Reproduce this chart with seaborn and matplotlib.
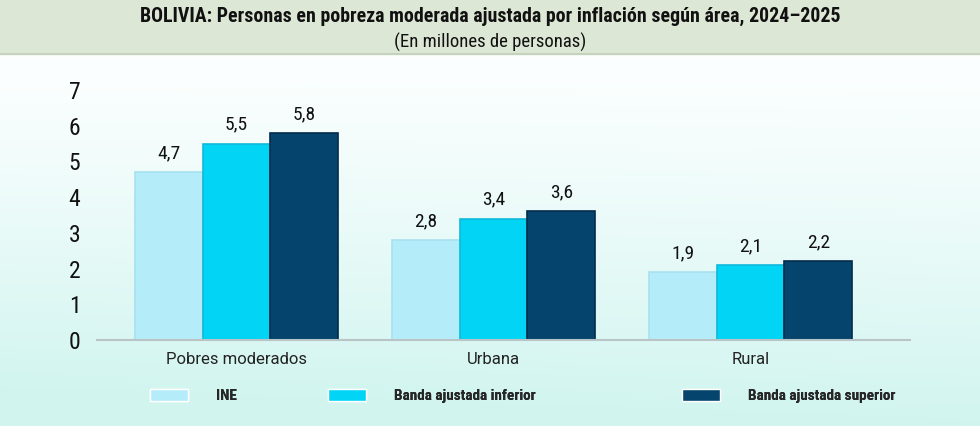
import numpy as np
import pandas as pd
import seaborn as sns
import matplotlib.pyplot as plt
from matplotlib import font_manager
from matplotlib.patches import Rectangle

# datos del grafico
categorias = ["Pobres moderados", "Urbana", "Rural"]
series = ["INE", "Banda ajustada inferior", "Banda ajustada superior"]
ine = [4.7, 2.8, 1.9]
banda_inferior = [5.5, 3.4, 2.1]
banda_superior = [5.8, 3.6, 2.2]
y_ticks = [0, 1, 2, 3, 4, 5, 6, 7]

titulo = "BOLIVIA: Personas en pobreza moderada ajustada por inflación según área, 2024–2025"
subtitulo = "(En millones de personas)"

colores = ["#b5ecf9", "#02d4f6", "#05446c"]
bordes = ["#a6e2f0", "#11b9da", "#032c4b"]

df = pd.DataFrame({
    "area": categorias * 3,
    "serie": [series[0]] * 3 + [series[1]] * 3 + [series[2]] * 3,
    "valor": ine + banda_inferior + banda_superior,
})

# fuente estrecha, si hay alguna
disponibles = {f.name for f in font_manager.fontManager.ttflist}
estrecha = "DejaVu Sans"
for cand in ["Roboto Condensed", "PT Sans Narrow", "Archivo Narrow", "Fira Sans Condensed",
             "Barlow Semi Condensed", "Encode Sans Condensed", "Liberation Sans Narrow"]:
    if cand in disponibles:
        estrecha = cand
        break
narrow = [estrecha, "DejaVu Sans"]

sns.set_style("white")
plt.rcParams["font.family"] = narrow

fig = plt.figure(figsize=(9.8, 4.26), dpi=100)

# fondo degradado
bg = fig.add_axes([0, 0, 1, 1], zorder=-10)
h, w = 426, 980
yy = np.linspace(0, 1, h)[:, None]
xx = np.linspace(0, 1, w)[None, :]
top = np.array([0.99, 1.0, 1.0])
bottom = np.array([0.82, 0.96, 0.94])
t = np.clip((yy - 0.12) / 0.88, 0, 1) ** 1.2
t = np.clip(t + 0.12 * (1 - xx) * t, 0, 1)
img = top[None, None, :] * (1 - t[..., None]) + bottom[None, None, :] * t[..., None]
bg.imshow(img, extent=[0, w, h, 0], aspect="auto")
bg.add_patch(Rectangle((0, 0), w, 54, color="#dde7d5"))
bg.plot([0, w], [54, 54], color="#c6d2bd", lw=1.5)
bg.set_xlim(0, w)
bg.set_ylim(h, 0)
bg.axis("off")

ax = fig.add_axes([97 / 980, 1 - 340 / 426, (910 - 97) / 980, (340 - 90) / 426])
ax.patch.set_alpha(0)
sns.barplot(data=df, x="area", y="valor", hue="serie", palette=colores,
            width=0.79, gap=0, saturation=1, ax=ax, legend=True)

for cont, borde in zip(ax.containers, bordes):
    for barra in cont:
        barra.set_edgecolor(borde)
        barra.set_linewidth(1.2)
    etiquetas = [f"{b.get_height():.1f}".replace(".", ",") for b in cont]
    ax.bar_label(cont, labels=etiquetas, padding=7, fontsize=14, color="#111111")

ax.set_xlim(-0.543, 2.62)
ax.set_ylim(0, 7)
ax.set_yticks(y_ticks)
ax.set_yticklabels([str(v) for v in y_ticks], fontsize=17, color="#111111")
ax.set_xlabel("")
ax.set_ylabel("")
ax.tick_params(axis="y", length=0, pad=12)
ax.tick_params(axis="x", length=0, pad=9)
for lab in ax.get_xticklabels():
    lab.set_family(["Roboto", "DejaVu Sans"])
    lab.set_fontsize(12)
    lab.set_color("#222222")
for lado in ["top", "right", "left"]:
    ax.spines[lado].set_visible(False)
ax.spines["bottom"].set_color("#b9c4c6")
ax.spines["bottom"].set_linewidth(1.5)

handles, labels = ax.get_legend_handles_labels()
ax.get_legend().remove()
pos_x = [150 / 980, 328 / 980, 682 / 980]
for hdl, lab, px in zip(handles, labels, pos_x):
    leg = fig.legend([hdl], [lab], loc="center left", bbox_to_anchor=(px, 0.07),
                     frameon=False, borderpad=0, borderaxespad=0,
                     handlelength=2.5, handleheight=0.8, handletextpad=1.8,
                     prop={"family": narrow, "weight": "bold", "size": 11})
    fig.add_artist(leg)

fig.text(0.5, 1 - 16 / 426, titulo, ha="center", va="center",
         fontsize=14.3, fontweight="bold", color="#111111")
fig.text(0.5, 1 - 42 / 426, subtitulo, ha="center", va="center",
         fontsize=13.5, color="#111111")

fig.savefig("out.png", dpi=100)
